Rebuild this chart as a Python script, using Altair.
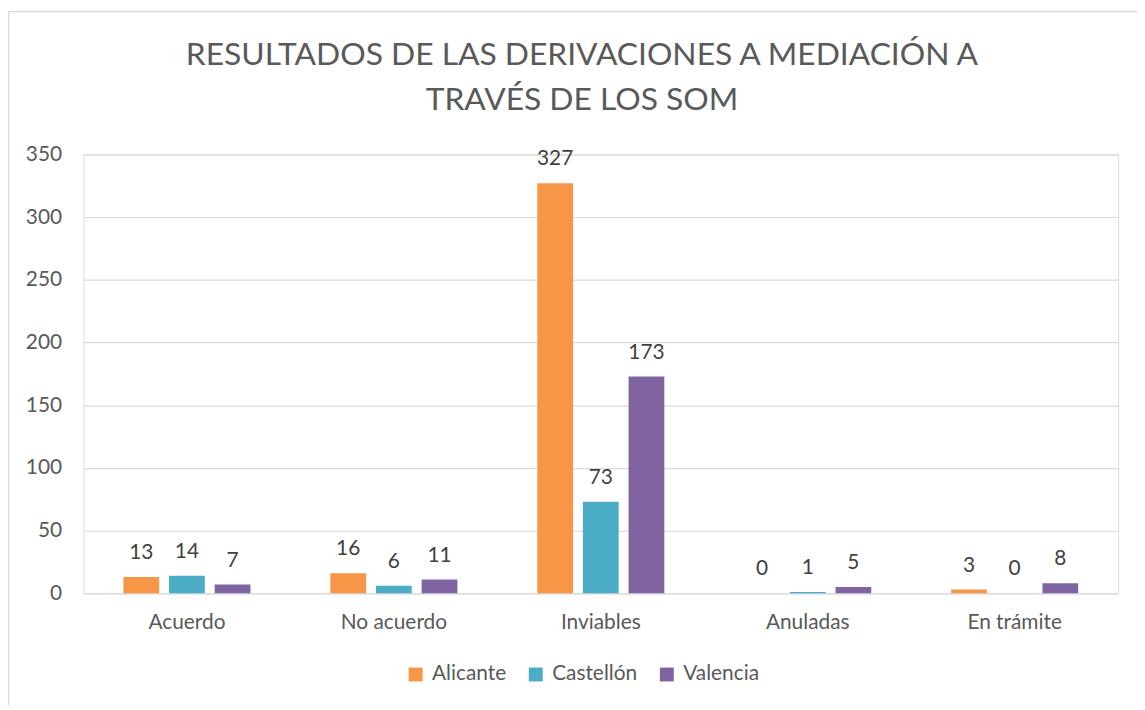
import altair as alt
import pandas as pd

categories = ["Acuerdo", "No acuerdo", "Inviables", "Anuladas", "En trámite"]
series = ["Alicante", "Castellón", "Valencia"]
alicante = [13, 16, 327, 0, 3]
castellon = [14, 6, 73, 1, 0]
valencia = [7, 11, 173, 5, 8]
colors = ["#F79646", "#4BACC6", "#8064A2"]
y_ticks = [0, 50, 100, 150, 200, 250, 300, 350]
title_lines = ["RESULTADOS DE LAS DERIVACIONES A MEDIACIÓN A", "TRAVÉS DE LOS SOM"]

rows = []
for s, vals in zip(series, [alicante, castellon, valencia]):
    for c, v in zip(categories, vals):
        rows.append({"cat": c, "serie": s, "valor": v})
df = pd.DataFrame(rows)

W, H = 1042, 442
FONT = "Lato"
TXT = "#595959"

x = alt.X("cat:N", sort=categories,
          scale=alt.Scale(paddingInner=0.338, paddingOuter=0.169),
          axis=alt.Axis(title=None, labelAngle=0, domain=False, ticks=False,
                        labelPadding=18, labelFontSize=21, labelColor=TXT,
                        labelFont=FONT, grid=False))
xo = alt.XOffset("serie:N", sort=series,
                 scale=alt.Scale(paddingInner=0.217, paddingOuter=0.109))
y = alt.Y("valor:Q", scale=alt.Scale(domain=[0, 350], nice=False),
          axis=alt.Axis(values=y_ticks, title=None, domain=False, ticks=False,
                        labelPadding=22, labelFontSize=21, labelColor=TXT,
                        labelFont=FONT, gridColor="#d9d9d9", gridWidth=1.2))
color = alt.Color("serie:N", sort=series,
                  scale=alt.Scale(domain=series, range=colors),
                  legend=alt.Legend(title=None, orient="none", legendX=324, legendY=513,
                                    direction="horizontal", symbolType="square",
                                    symbolSize=196, symbolStrokeWidth=0,
                                    labelFontSize=21, labelFont=FONT, labelColor=TXT,
                                    labelOffset=6, columnPadding=19))

base = alt.Chart(df)
bars = base.mark_bar().encode(x=x, xOffset=xo, y=y, color=color)
labels = base.mark_text(baseline="bottom", dy=-14, fontSize=21, font=FONT,
                        color="#404040").encode(x=x, xOffset=xo, y=y, text="valor:Q")

title = alt.Chart(pd.DataFrame({"t": ["\n".join(title_lines)]})).mark_text(
    lineBreak="\n", lineHeight=45, fontSize=32, font=FONT, color=TXT,
    align="center", baseline="alphabetic"
).encode(x=alt.value(502), y=alt.value(-90), text="t:N")

one = pd.DataFrame({"a": [0]})
left_edge = alt.Chart(one).mark_rule(color="#d9d9d9", strokeWidth=1.5).encode(
    x=alt.value(-75.5), y=alt.value(-144), y2=alt.value(700))
top_edge = alt.Chart(one).mark_rule(color="#d9d9d9", strokeWidth=1.5).encode(
    x=alt.value(-75.5), x2=alt.value(1300), y=alt.value(-144))

chart = alt.layer(left_edge, top_edge, title, bars, labels).properties(
    width=W, height=H,
    autosize=alt.AutoSizeParams(type="none"),
    padding={"left": 76, "top": 145, "right": 19, "bottom": 110},
).configure_view(stroke=None).configure(background="white")

chart.save("out.html", embed_options={"renderer": "svg", "actions": False})
